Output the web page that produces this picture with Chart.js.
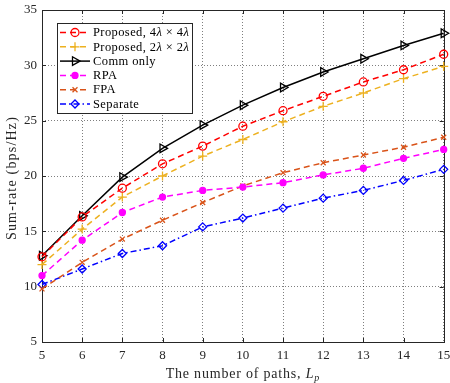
<!DOCTYPE html>
<html>
<head>
<meta charset="utf-8">
<script src="https://cdn.jsdelivr.net/npm/chart.js@4.4.1/dist/chart.umd.min.js"></script>
<style>
  html, body { margin: 0; padding: 0; background: #fff; }
  #wrap { width: 450px; height: 383px; }
</style>
</head>
<body>
<div id="wrap"><canvas id="chart" width="450" height="383"></canvas></div>
<script>
// values
const paths = [5, 6, 7, 8, 9, 10, 11, 12, 13, 14, 15];
const proposed4 = [12.7, 16.3, 18.9, 21.1, 22.7, 24.5, 25.9, 27.2, 28.5, 29.6, 31.0];
const proposed2 = [12.0, 15.2, 18.1, 20.0, 21.8, 23.3, 24.9, 26.3, 27.5, 28.8, 29.9];
const commOnly = [12.8, 16.4, 19.9, 22.5, 24.6, 26.4, 28.0, 29.4, 30.6, 31.8, 32.9];
const rpa = [11.0, 14.2, 16.7, 18.1, 18.7, 19.0, 19.4, 20.1, 20.7, 21.6, 22.4];
const fpa = [9.8, 12.2, 14.3, 16.0, 17.6, 19.1, 20.3, 21.2, 21.9, 22.6, 23.5];
const separate = [10.2, 11.6, 13.0, 13.7, 15.4, 16.2, 17.1, 18.0, 18.7, 19.6, 20.6];

// legend labels, split into [text, italic] pieces
const seriesLabels = [
  [['Proposed, 4', false], ['λ', true], [' × 4', false], ['λ', true]],
  [['Proposed, 2', false], ['λ', true], [' × 2', false], ['λ', true]],
  [['Comm only', false]],
  [['RPA', false]],
  [['FPA', false]],
  [['Separate', false]]
];
const xTitle = [['The number of paths, ', false], ['L', true]];
const xTitleSub = 'p';
const yTitle = 'Sum-rate (bps/Hz)';

const FONT = "'Liberation Serif', 'DejaVu Serif', serif";
const DASH = [6, 4];
const DASHDOT = [6, 3, 1.5, 3];

const toXY = arr => arr.map((v, i) => ({ x: paths[i], y: v }));

const datasets = [
  { data: toXY(proposed4), borderColor: '#ff0000', borderDash: DASH, pointStyle: 'circle', pointRadius: 4, pointBackgroundColor: 'transparent' },
  { data: toXY(proposed2), borderColor: '#edb120', borderDash: DASH, pointStyle: 'cross', pointRadius: 4.5, pointBackgroundColor: 'transparent' },
  { data: toXY(commOnly), borderColor: '#000000', borderDash: [], pointStyle: 'triangle', pointRotation: 90, pointRadius: 5, pointBackgroundColor: 'transparent' },
  { data: toXY(rpa), borderColor: '#ff00ff', borderDash: DASH, pointStyle: 'circle', pointRadius: 3, pointBackgroundColor: '#ff00ff' },
  { data: toXY(fpa), borderColor: '#d95319', borderDash: DASH, pointStyle: 'crossRot', pointRadius: 3.5, pointBackgroundColor: 'transparent' },
  { data: toXY(separate), borderColor: '#0000ff', borderDash: DASHDOT, pointStyle: 'rectRot', pointRadius: 4, pointBackgroundColor: 'transparent' }
].map(d => Object.assign({
  borderWidth: 1.5,
  pointBorderColor: d.borderColor,
  pointBorderWidth: 1.3,
  pointHoverRadius: d.pointRadius,
  pointRotation: d.pointRotation || 0,
  tension: 0,
  fill: false,
  clip: false
}, d));

function drawMarker(ctx, ds, x, y) {
  ctx.save();
  ctx.setLineDash([]);
  ctx.strokeStyle = ds.pointBorderColor;
  ctx.fillStyle = ds.pointBackgroundColor;
  ctx.lineWidth = ds.pointBorderWidth;
  if (Chart.helpers && Chart.helpers.drawPoint) {
    Chart.helpers.drawPoint(ctx, { pointStyle: ds.pointStyle, radius: ds.pointRadius, rotation: ds.pointRotation, borderWidth: ds.pointBorderWidth }, x, y);
  } else {
    ctx.beginPath(); ctx.arc(x, y, ds.pointRadius, 0, Math.PI * 2); ctx.fill(); ctx.stroke();
  }
  ctx.restore();
}

function drawPieces(ctx, pieces, x, y, size) {
  pieces.forEach(([txt, it]) => {
    ctx.font = (it ? 'italic ' : '') + size + 'px ' + FONT;
    ctx.fillText(txt, x, y);
    x += ctx.measureText(txt).width;
  });
  return x;
}

function piecesWidth(ctx, pieces, size) {
  let w = 0;
  pieces.forEach(([txt, it]) => {
    ctx.font = (it ? 'italic ' : '') + size + 'px ' + FONT;
    w += ctx.measureText(txt).width;
  });
  return w;
}

const matlabFrame = {
  id: 'matlabFrame',
  beforeDatasetsDraw(chart) {
    const { ctx, chartArea: a, scales: { x, y } } = chart;
    ctx.save();
    ctx.strokeStyle = '#262626';
    ctx.lineWidth = 1;
    ctx.strokeRect(Math.round(a.left) + 0.5, Math.round(a.top) + 0.5, Math.round(a.right - a.left), Math.round(a.bottom - a.top));
    ctx.beginPath();
    x.ticks.forEach(t => {
      const px = Math.round(x.getPixelForValue(t.value)) + 0.5;
      ctx.moveTo(px, a.bottom); ctx.lineTo(px, a.bottom - 4);
      ctx.moveTo(px, a.top); ctx.lineTo(px, a.top + 4);
    });
    y.ticks.forEach(t => {
      const py = Math.round(y.getPixelForValue(t.value)) + 0.5;
      ctx.moveTo(a.left, py); ctx.lineTo(a.left + 4, py);
      ctx.moveTo(a.right, py); ctx.lineTo(a.right - 4, py);
    });
    ctx.stroke();
    ctx.restore();
  },
  afterDatasetsDraw(chart) {
    const { ctx } = chart;
    const bx = 57, by = 23, bw = 135, bh = 90, row = 14.3;
    ctx.save();
    ctx.fillStyle = '#fff';
    ctx.fillRect(bx, by, bw, bh);
    ctx.strokeStyle = '#262626';
    ctx.lineWidth = 1;
    ctx.strokeRect(bx + 0.5, by + 0.5, bw, bh);
    chart.data.datasets.forEach((ds, i) => {
      const cy = by + 9.5 + i * row;
      ctx.save();
      ctx.strokeStyle = ds.borderColor;
      ctx.lineWidth = ds.borderWidth;
      ctx.setLineDash(ds.borderDash);
      ctx.beginPath();
      ctx.moveTo(bx + 3, cy);
      ctx.lineTo(bx + 33, cy);
      ctx.stroke();
      ctx.restore();
      drawMarker(ctx, ds, bx + 18, cy);
      ctx.fillStyle = '#000';
      ctx.textBaseline = 'middle';
      ctx.letterSpacing = '0.4px';
      drawPieces(ctx, seriesLabels[i], bx + 36, cy + 0.5, 12.5);
    });
    ctx.restore();
  },
  afterDraw(chart) {
    const { ctx, chartArea: a } = chart;
    ctx.save();
    ctx.fillStyle = '#262626';
    ctx.textBaseline = 'alphabetic';
    ctx.letterSpacing = '0.8px';
    // x title with italic L and subscript p
    let w = piecesWidth(ctx, xTitle, 14);
    ctx.font = 'italic 10px ' + FONT;
    w += ctx.measureText(xTitleSub).width;
    let x0 = (a.left + a.right) / 2 - w / 2;
    const yb = 378;
    x0 = drawPieces(ctx, xTitle, x0, yb, 14);
    ctx.font = 'italic 10px ' + FONT;
    ctx.fillText(xTitleSub, x0, yb + 3);
    // y title
    ctx.translate(16, (a.top + a.bottom) / 2 + 2);
    ctx.rotate(-Math.PI / 2);
    ctx.font = '14px ' + FONT;
    ctx.letterSpacing = '1.2px';
    ctx.textAlign = 'center';
    ctx.fillText(yTitle, 0, 0);
    ctx.restore();
  }
};

new Chart(document.getElementById('chart'), {
  type: 'line',
  data: { datasets },
  plugins: [matlabFrame],
  options: {
    responsive: false,
    animation: false,
    layout: { padding: { top: 10, right: 5, left: 0, bottom: 0 } },
    plugins: { legend: { display: false }, tooltip: { enabled: false } },
    scales: {
      x: {
        type: 'linear', min: 5, max: 15,
        ticks: { stepSize: 1, padding: 6, color: '#262626', font: { family: FONT, size: 13 } },
        grid: { color: 'rgba(0,0,0,0.5)', lineWidth: 1, drawTicks: false },
        border: { display: false, dash: [1, 2] },
        afterFit(s) { s.height = 41; s.paddingLeft = 0; s.paddingRight = 0; }
      },
      y: {
        type: 'linear', min: 5, max: 35,
        ticks: { stepSize: 5, padding: 5, color: '#262626', font: { family: FONT, size: 13 } },
        grid: { color: 'rgba(0,0,0,0.5)', lineWidth: 1, drawTicks: false },
        border: { display: false, dash: [1, 2] },
        afterFit(s) { s.width = 42; s.paddingTop = 0; s.paddingBottom = 0; }
      }
    }
  }
});
</script>
</body>
</html>
